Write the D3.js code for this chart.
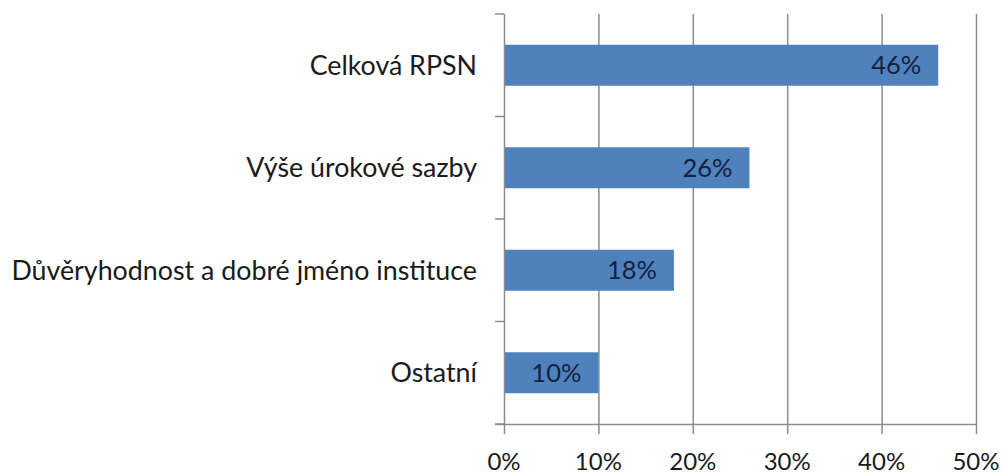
<!DOCTYPE html>
<html><head><meta charset="utf-8">
<script src="https://cdn.jsdelivr.net/npm/d3@7"></script>
<style>body{margin:0;background:#fff}svg{display:block}text{font-family:Lato,"Open Sans",sans-serif}</style>
</head><body><svg id="c" width="1003" height="474"></svg>
<script>
const categories = ["Celková RPSN","Výše úrokové sazby","Důvěryhodnost a dobré jméno instituce","Ostatní"];
const values = [46,26,18,10];
const tickValues = [0,10,20,30,40,50];
const tickLabels = ["0%","10%","20%","30%","40%","50%"];

const svg = d3.select("#c");
const x = d3.scaleLinear().domain([0,50]).range([504,976]);
const y = d3.scaleBand().domain(categories).range([14,424]).paddingInner(0.6).paddingOuter(0.3);
const step = y.step();
const grid = "#8c8c8c";

// gridlines
svg.append("g").selectAll("line").data(tickValues.slice(1)).join("line")
  .attr("x1",d=>x(d)+0.5).attr("x2",d=>x(d)+0.5).attr("y1",14).attr("y2",434)
  .attr("stroke",grid).attr("stroke-width",1.5);

// bars
svg.append("g").selectAll("rect").data(values).join("rect")
  .attr("x",x(0)).attr("y",(d,i)=>y(categories[i]))
  .attr("width",d=>x(d)-x(0)).attr("height",y.bandwidth())
  .attr("fill","#4f81bd");

// left axis line with ticks
const left = svg.append("g");
left.append("line").attr("x1",504.5).attr("x2",504.5).attr("y1",14).attr("y2",434).attr("stroke",grid).attr("stroke-width",1.5);
const bounds = d3.range(categories.length+1).map(i=>14+i*step);
left.selectAll("line.t").data(bounds).join("line").attr("class","t")
  .attr("x1",495).attr("x2",504).attr("y1",d=>d).attr("y2",d=>d).attr("stroke",grid).attr("stroke-width",1.5);

// bottom axis
svg.append("line").attr("x1",495).attr("x2",976).attr("y1",424.5).attr("y2",424.5).attr("stroke",grid).attr("stroke-width",1.5);

// tick labels
svg.append("g").selectAll("text").data(tickValues).join("text")
  .attr("x",d=>x(d)).attr("y",470).attr("text-anchor","middle")
  .attr("font-size",24).attr("fill","#1a1a1a").text((d,i)=>tickLabels[i]);

// category labels
svg.append("g").selectAll("text").data(categories).join("text")
  .attr("x",477).attr("y",d=>y(d)+y.bandwidth()/2).attr("dy","0.35em").attr("text-anchor","end")
  .attr("font-size",26.8).attr("fill","#1a1a1a").text(d=>d);

// value labels
svg.append("g").selectAll("text").data(values).join("text")
  .attr("x",d=>x(d)-17).attr("y",(d,i)=>y(categories[i])+y.bandwidth()/2).attr("dy","0.35em").attr("text-anchor","end")
  .attr("font-size",25.5).attr("fill","#14213d").text(d=>d+"%");
</script></body></html>
